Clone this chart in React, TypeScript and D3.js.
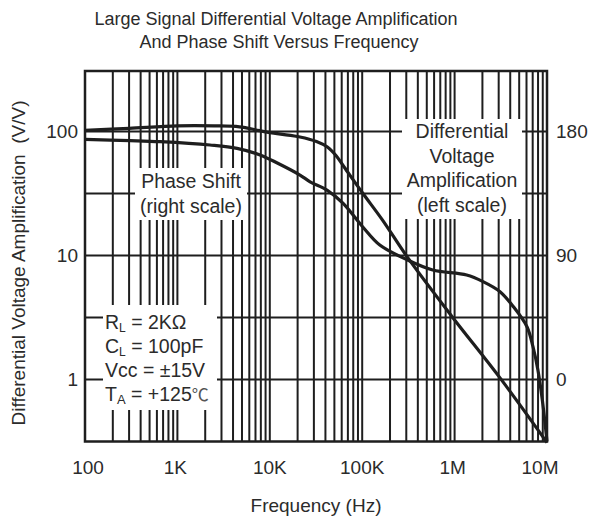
import React from "react";
import * as d3 from "d3";

// ---- data ----
const freqTicks = [100, 1e3, 1e4, 1e5, 1e6, 1e7];
const freqTickLabels = ["100", "1K", "10K", "100K", "1M", "10M"];
const gainTicks = [1, 10, 100];
const gainTickLabels = ["1", "10", "100"];
const phaseTicks = [0, 90, 180];
const phaseTickLabels = ["0", "90", "180"];
const phaseGrid = [0, 45, 90, 135, 180];

const gainFreq = [100, 300, 1000, 2500, 4700, 7800, 12000, 21200, 32000, 42000, 52000, 64000, 101000, 166000, 311000, 958000, 3.1e6, 1e7];
const gainValues = [102, 106, 111, 111, 109, 101.5, 96, 90.3, 83, 75, 64, 51.5, 31.9, 19.3, 9.6, 3.15, 1.03, 0.31];

const phaseFreq = [100, 307, 649, 2250, 4420, 7830, 11900, 21200, 27300, 41600, 61800, 101000, 155000, 311000, 580000, 1.35e6, 2.03e6, 3.1e6, 4.33e6, 6.07e6, 7.05e6, 7.97e6, 8.9e6, 1e7];
const phaseValues = [174.3, 173.4, 172.6, 170.2, 167.8, 163, 157.3, 148.4, 143.5, 137.5, 128, 110.9, 97.6, 86.7, 79.5, 75.8, 71, 63.7, 52.8, 38.3, 23.8, 6.9, -14.9, -45];

const W = 591;
const H = 522;
const plot = { left: 85, right: 547, top: 71, bottom: 441.5 };
const FONT = "'Liberation Sans', Arial, 'DejaVu Sans', sans-serif";
const LINE = "#1e1e1e";
const TEXT = "#2b2b2b";
const freqLabelNudge = [3, -2, 0, 0, -2, -7];

export default function App() {
  const x = d3.scaleLog().domain([100, 1e7]).range([plot.left, plot.right]);
  // 100 -> 131.5, 1 -> 379.5 (124 px / decade)
  const y = d3
    .scaleLog()
    .domain([Math.pow(10, -62 / 124), Math.pow(10, 2 + 60.5 / 124)])
    .range([plot.bottom, plot.top]);
  const yp = d3
    .scaleLinear()
    .domain([-(62 / 124) * 90, 180 + (60.5 / 124) * 90])
    .range([plot.bottom, plot.top]);

  const vGrid: number[] = [];
  for (let d = 100; d < 1e7; d *= 10) for (let k = 1; k <= 9; k++) vGrid.push(d * k);

  const gainLine = d3
    .line<number>()
    .x((_, i) => x(gainFreq[i]))
    .y((v) => y(v))
    .curve(d3.curveCatmullRom.alpha(0.5));
  const phaseLine = d3
    .line<number>()
    .x((_, i) => x(phaseFreq[i]))
    .y((v) => yp(v))
    .curve(d3.curveCatmullRom.alpha(0.5));

  const boxes = [
    { x: 135, y: 168, w: 112, h: 52 },
    { x: 402, y: 119, w: 120, h: 100 },
    { x: 103, y: 305, w: 114, h: 105 },
  ];

  return (
    <div style={{ position: "absolute", left: 0, top: 0 }}>
      <svg width={W} height={H} style={{ display: "block", background: "#fff" }} fontFamily={FONT}>
        <rect x={0} y={0} width={W} height={H} fill="#fff" />
        {/* title */}
        <text x={276} y={25} textAnchor="middle" fontSize={18} fill={TEXT}>
          Large Signal Differential Voltage Amplification
        </text>
        <text x={279} y={48} textAnchor="middle" fontSize={18} fill={TEXT}>
          And Phase Shift Versus Frequency
        </text>

        {/* vertical grid */}
        {vGrid.map((f, i) => (
          <line key={"v" + i} x1={x(f)} x2={x(f)} y1={plot.top} y2={plot.bottom} stroke={LINE} strokeWidth={2} />
        ))}
        {/* horizontal grid */}
        {phaseGrid.map((p, i) => (
          <line key={"h" + i} x1={plot.left} x2={plot.right} y1={yp(p)} y2={yp(p)} stroke={LINE} strokeWidth={2} />
        ))}
        {/* border */}
        <rect
          x={plot.left}
          y={plot.top}
          width={plot.right - plot.left}
          height={plot.bottom - plot.top}
          fill="none"
          stroke={LINE}
          strokeWidth={2.5}
        />

        {/* label boxes */}
        {boxes.map((b, i) => (
          <rect key={"b" + i} x={b.x} y={b.y} width={b.w} height={b.h} fill="#fff" />
        ))}

        {/* curves */}
        <path d={gainLine(gainValues) || ""} fill="none" stroke={LINE} strokeWidth={3.2} strokeLinejoin="round" />
        <path d={phaseLine(phaseValues) || ""} fill="none" stroke={LINE} strokeWidth={3.2} strokeLinejoin="round" />

        {/* left ticks */}
        {gainTicks.map((g, i) => (
          <text key={"gl" + i} x={78} y={y(g)} dy="0.36em" textAnchor="end" fontSize={19} fill={TEXT}>
            {gainTickLabels[i]}
          </text>
        ))}
        {/* right ticks */}
        {phaseTicks.map((p, i) => (
          <text key={"pl" + i} x={556} y={yp(p)} dy="0.36em" textAnchor="start" fontSize={19} fill={TEXT}>
            {phaseTickLabels[i]}
          </text>
        ))}
        {/* bottom ticks */}
        {freqTicks.map((f, i) => (
          <text key={"fl" + i} x={x(f) + freqLabelNudge[i]} y={474} textAnchor="middle" fontSize={19} fill={TEXT}>
            {freqTickLabels[i]}
          </text>
        ))}

        {/* axis titles */}
        <text x={316} y={512} textAnchor="middle" fontSize={19} fill={TEXT}>
          Frequency (Hz)
        </text>
        <text
          transform={`translate(25,263) rotate(-90)`}
          textAnchor="middle"
          fontSize={19}
          fill={TEXT}
          style={{ whiteSpace: "pre" }}
        >
          {"Differential Voltage Amplification  (V/V)"}
        </text>

        {/* annotations */}
        <g fontSize={19.5} fill={TEXT} textAnchor="middle">
          <text x={191} y={188}>Phase Shift</text>
          <text x={191} y={213}>(right scale)</text>
          <text x={462} y={138}>Differential</text>
          <text x={462} y={163}>Voltage</text>
          <text x={462} y={187}>Amplification</text>
          <text x={462} y={212}>(left scale)</text>
        </g>
        <g fontSize={19.5} fill={TEXT}>
          <text x={105} y={329}>
            R<tspan fontSize={12} dy={3}>L</tspan>
            <tspan dy={-3}> = 2KΩ</tspan>
          </text>
          <text x={105} y={353}>
            C<tspan fontSize={12} dy={3}>L</tspan>
            <tspan dy={-3}> = 100pF</tspan>
          </text>
          <text x={105} y={377}>Vcc = ±15V</text>
          <text x={105} y={401}>
            T<tspan fontSize={13} dy={3}>A</tspan>
            <tspan dy={-3}> = +125</tspan>
            <tspan fontFamily="'Noto Sans CJK SC', 'DejaVu Sans', sans-serif" fontSize={17} fill="#555">℃</tspan>
          </text>
        </g>
      </svg>
    </div>
  );
}
